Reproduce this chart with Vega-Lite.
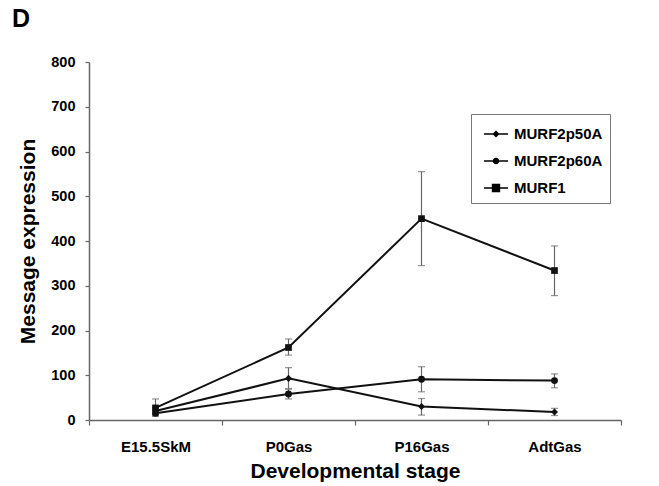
{
  "$schema": "https://vega.github.io/schema/vega-lite/v6.json",
  "width": 532,
  "height": 358,
  "autosize": "none",
  "padding": {"left": 89, "top": 62, "right": 38, "bottom": 66},
  "background": "white",
  "title": {"text": "D", "anchor": "start", "frame": "group", "dx": -77, "offset": 22, "fontSize": 25, "font": "Liberation Sans", "fontWeight": "bold", "color": "black"},
  "config": {
    "view": {"stroke": null},
    "axis": {"labelFont": "Liberation Sans", "titleFont": "Liberation Sans", "labelFontWeight": "bold", "titleFontWeight": "bold", "labelColor": "black", "titleColor": "black", "domainColor": "#666", "tickColor": "#666", "grid": false, "domainWidth": 1.5, "tickWidth": 1.2}
  },
  "data": {"values": [
    {"series": "MURF2p50A", "stage": "E15.5SkM", "value": 20, "lo": 12, "hi": 28},
    {"series": "MURF2p50A", "stage": "P0Gas", "value": 93, "lo": 70, "hi": 117},
    {"series": "MURF2p50A", "stage": "P16Gas", "value": 30, "lo": 11, "hi": 48},
    {"series": "MURF2p50A", "stage": "AdtGas", "value": 18, "lo": 10, "hi": 26},
    {"series": "MURF2p60A", "stage": "E15.5SkM", "value": 15, "lo": 8, "hi": 22},
    {"series": "MURF2p60A", "stage": "P0Gas", "value": 58, "lo": 47, "hi": 69},
    {"series": "MURF2p60A", "stage": "P16Gas", "value": 91, "lo": 63, "hi": 119},
    {"series": "MURF2p60A", "stage": "AdtGas", "value": 88, "lo": 72, "hi": 103},
    {"series": "MURF1", "stage": "E15.5SkM", "value": 27, "lo": 10, "hi": 47},
    {"series": "MURF1", "stage": "P0Gas", "value": 162, "lo": 145, "hi": 181},
    {"series": "MURF1", "stage": "P16Gas", "value": 450, "lo": 345, "hi": 555},
    {"series": "MURF1", "stage": "AdtGas", "value": 334, "lo": 278, "hi": 389}
  ]},
  "encoding": {
    "x": {"field": "stage", "type": "nominal", "sort": ["E15.5SkM", "P0Gas", "P16Gas", "AdtGas"],
      "scale": {"type": "band", "paddingInner": 0, "paddingOuter": 0},
      "axis": {"title": "Developmental stage", "labelAngle": 0, "labelFontSize": 15, "titleFontSize": 21, "tickBand": "extent", "tickSize": 5, "labelPadding": 14, "titlePadding": 6}}
  },
  "layer": [
    {"mark": {"type": "rule", "color": "#666", "strokeWidth": 1.2},
     "encoding": {"y": {"field": "lo", "type": "quantitative"}, "y2": {"field": "hi"}}},
    {"mark": {"type": "tick", "color": "#666", "size": 7, "thickness": 1.2},
     "encoding": {"y": {"field": "lo", "type": "quantitative"}}},
    {"mark": {"type": "tick", "color": "#666", "size": 7, "thickness": 1.2},
     "encoding": {"y": {"field": "hi", "type": "quantitative"}}},
    {"mark": {"type": "line", "color": "#111", "strokeWidth": 2},
     "encoding": {"y": {"field": "value", "type": "quantitative",
        "scale": {"domain": [0, 800], "nice": false},
        "axis": {"title": "Message expression", "values": [0, 100, 200, 300, 400, 500, 600, 700, 800], "labelFontSize": 14.5, "titleFontSize": 21, "tickSize": 4, "labelPadding": 10, "titlePadding": 12}},
       "detail": {"field": "series"}}},
    {"mark": {"type": "point", "filled": true, "color": "#111", "opacity": 1},
     "encoding": {"y": {"field": "value", "type": "quantitative"},
       "shape": {"field": "series", "type": "nominal", "scale": {"domain": ["MURF2p50A", "MURF2p60A", "MURF1"], "range": ["diamond", "circle", "square"]}, "legend": null},
       "size": {"field": "series", "type": "nominal", "scale": {"domain": ["MURF2p50A", "MURF2p60A", "MURF1"], "range": [50, 45, 95]}, "legend": null}}},
    {"mark": {"type": "point", "filled": true, "color": "black", "opacity": 0},
     "encoding": {"y": {"field": "value", "type": "quantitative"},
       "shape": {"field": "series", "type": "nominal",
         "scale": {"domain": ["MURF2p50A", "MURF2p60A", "MURF1"], "range": ["M-1,-0.06H1V0.06H-1ZM-0.3,0L0,-0.3L0.3,0L0,0.3Z", "M-1,-0.06H1V0.06H-1ZM-0.27,0A0.27,0.27,0,1,1,0.27,0A0.27,0.27,0,1,1,-0.27,0Z", "M-1,-0.06H1V0.06H-1ZM-0.35,-0.35H0.35V0.35H-0.35Z"]},
         "legend": {"title": null, "orient": "none", "legendX": 382, "legendY": 52, "strokeColor": "#777", "fillColor": "white", "padding": 7, "labelFont": "Liberation Sans", "labelFontWeight": "bold", "labelFontSize": 15, "labelColor": "black", "rowPadding": 6, "symbolSize": 576, "symbolOffset": 5, "labelOffset": 5, "symbolOpacity": 1, "symbolFillColor": "black"}}}}
  ],
  "resolve": {"scale": {"shape": "independent"}}
}
